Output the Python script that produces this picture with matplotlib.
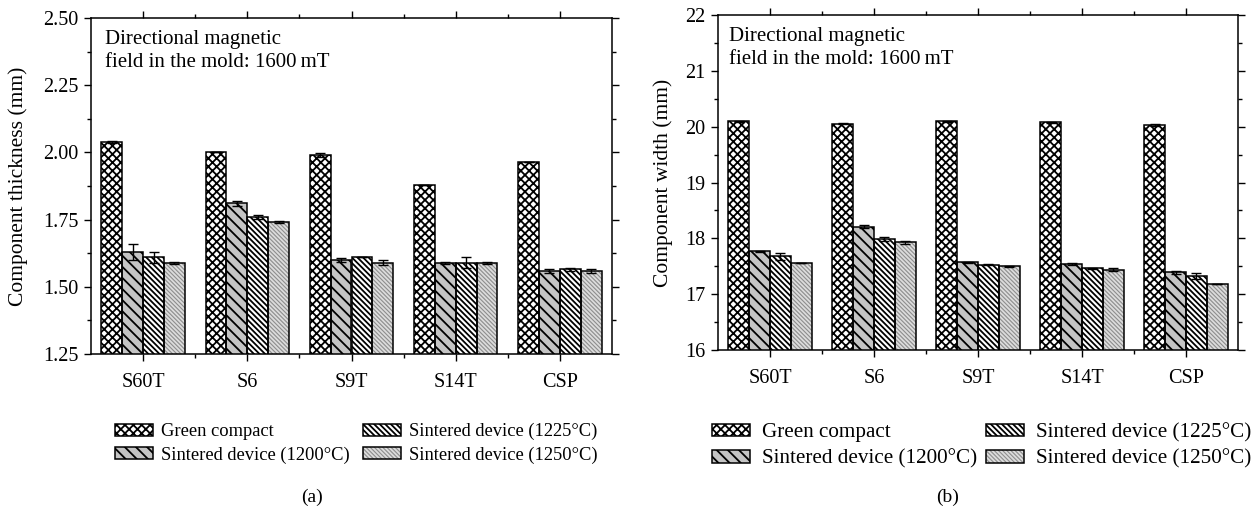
import numpy as np
import matplotlib
matplotlib.use("Agg")
import matplotlib.pyplot as plt
import matplotlib.patches as mpatches
from matplotlib.ticker import MultipleLocator, FixedLocator, FormatStrFormatter

plt.rcParams['font.family'] = ['Liberation Serif', 'DejaVu Serif']
plt.rcParams['font.size'] = 14.5
plt.rcParams['hatch.linewidth'] = 1.3

# donnees
echantillons = ['S60T', 'S6', 'S9T', 'S14T', 'CSP']
series = ['Green compact', 'Sintered device (1200°C)',
          'Sintered device (1225°C)', 'Sintered device (1250°C)']

# (a) epaisseur (mm)
ep_green = [2.04, 2.00, 1.99, 1.88, 1.965]
ep_green_err = [0.004, 0.0, 0.008, 0.0, 0.0]
ep_1200 = [1.63, 1.81, 1.60, 1.59, 1.56]
ep_1200_err = [0.03, 0.01, 0.008, 0.004, 0.008]
ep_1225 = [1.61, 1.76, 1.61, 1.59, 1.565]
ep_1225_err = [0.02, 0.008, 0.0, 0.02, 0.005]
ep_1250 = [1.59, 1.74, 1.59, 1.59, 1.56]
ep_1250_err = [0.004, 0.004, 0.008, 0.004, 0.008]

# (b) largeur (mm)
la_green = [20.10, 20.05, 20.10, 20.08, 20.03]
la_green_err = [0.01, 0.01, 0.01, 0.01, 0.01]
la_1200 = [17.77, 18.21, 17.57, 17.54, 17.39]
la_1200_err = [0.01, 0.03, 0.01, 0.01, 0.02]
la_1225 = [17.68, 17.99, 17.53, 17.46, 17.33]
la_1225_err = [0.06, 0.03, 0.01, 0.01, 0.05]
la_1250 = [17.56, 17.93, 17.50, 17.44, 17.18]
la_1250_err = [0.005, 0.03, 0.005, 0.03, 0.005]

# styles des barres : (couleur fond, couleur hachures, hachures)
styles = [('white', 'black', 'xxxx'),
          ('#c4c4c4', 'black', '\\' * 3),
          ('white', 'black', '\\' * 6),
          ('#8e8e8e', '#dcdcdc', '\\' * 8)]

W, H = 1257, 514


def trace_panneau(ax, valeurs, erreurs, ylim, ymaj, ymin, ylabel, ylab_x, tx):
    x = np.arange(len(echantillons))
    largeur = 0.2
    for i, (vals, errs) in enumerate(zip(valeurs, erreurs)):
        fc, hc, hatch = styles[i]
        pos = x + (i - 1.5) * largeur
        ax.bar(pos, vals, largeur, color=fc, edgecolor=hc, linewidth=0,
               hatch=hatch, zorder=2)
        ax.bar(pos, vals, largeur, fill=False, edgecolor='black',
               linewidth=1.1, zorder=3)
        ax.errorbar(pos, vals, yerr=errs, fmt='none', ecolor='black',
                    elinewidth=1, capsize=3.5, capthick=1, zorder=4)
    ax.set_xlim(-0.5, len(echantillons) - 0.5)
    ax.set_ylim(*ylim)
    ax.set_xticks(x)
    ax.set_xticklabels(echantillons)
    ax.xaxis.set_minor_locator(FixedLocator(x[:-1] + 0.5))
    ax.yaxis.set_major_locator(MultipleLocator(ymaj))
    ax.yaxis.set_minor_locator(MultipleLocator(ymin))
    ax.tick_params(which='both', direction='out', top=True, right=True,
                   width=1)
    ax.tick_params(which='major', length=5, pad=4)
    ax.tick_params(axis='x', which='major', pad=9)
    ax.tick_params(which='minor', length=3)
    for sp in ax.spines.values():
        sp.set_linewidth(1.1)
    ax.set_ylabel(ylabel, fontsize=15.5)
    ax.yaxis.set_label_coords(ylab_x, 0.5)
    ax.text(tx, 0.965, 'Directional magnetic\nfield in the mold: 1600\u2009mT',
            transform=ax.transAxes, ha='left', va='top', linespacing=1.3,
            fontsize=15)


def poignees():
    hs = []
    for fc, hc, hatch in styles:
        fond = mpatches.Patch(facecolor=fc, edgecolor=hc, linewidth=0, hatch=hatch)
        bord = mpatches.Patch(fill=False, edgecolor='black', linewidth=1.1)
        hs.append((fond, bord))
    return hs


fig = plt.figure(figsize=(W / 100, H / 100), dpi=100)
axa = fig.add_axes([91 / W, 1 - 354 / H, 521 / W, 336 / H])
axb = fig.add_axes([718 / W, 1 - 350 / H, 520 / W, 335 / H])

trace_panneau(axa, [ep_green, ep_1200, ep_1225, ep_1250],
              [ep_green_err, ep_1200_err, ep_1225_err, ep_1250_err],
              (1.25, 2.50), 0.25, 0.125, 'Component thickness (mm)', -0.12, 0.027)
axa.yaxis.set_major_formatter(FormatStrFormatter('%.2f'))
trace_panneau(axb, [la_green, la_1200, la_1225, la_1250],
              [la_green_err, la_1200_err, la_1225_err, la_1250_err],
              (16, 22), 1, 0.5, 'Component width (mm)', -0.087, 0.022)

legendes = [(115, 423, 13.3, 0.45, 0.7, '(a)', 312),
            (712, 423, 15.2, 0.55, 0.45, '(b)', 948)]
for x0, y0, fs, pad, cs, lab, xl in legendes:
    fig.legend(poignees(), series, ncol=2, frameon=False, fontsize=fs,
               loc='upper left', bbox_to_anchor=(x0 / W, 1 - y0 / H),
               borderpad=0, borderaxespad=0, handlelength=2.1 * 13 / fs,
               handleheight=0.65 * 13 / fs,
               handletextpad=pad, columnspacing=cs, labelspacing=0.33)
    fig.text(xl / W, 1 - 497 / H, lab, ha='center', va='center', fontsize=14)

fig.savefig('out.png', dpi=100)
